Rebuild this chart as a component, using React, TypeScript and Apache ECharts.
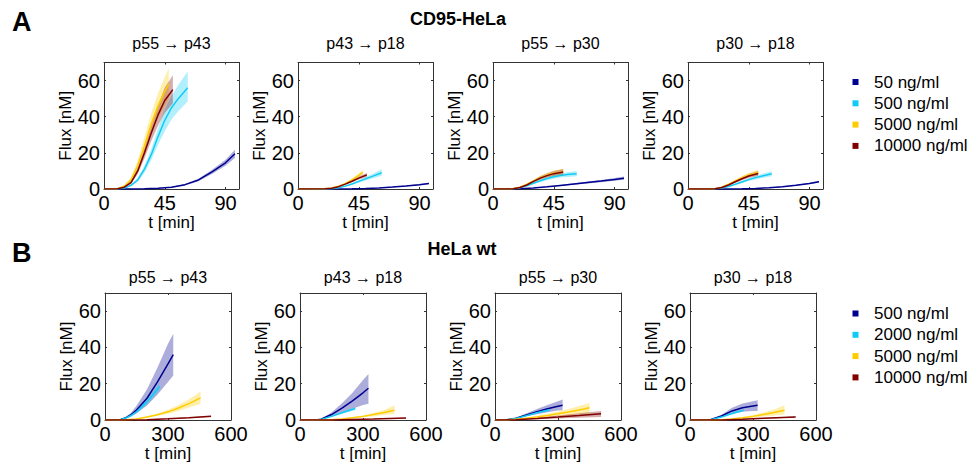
import React, { useEffect, useRef } from 'react';
import * as echarts from 'echarts';

// ---------- labels ----------
const panelTitles = ['p55 \u2192 p43', 'p43 \u2192 p18', 'p55 \u2192 p30', 'p30 \u2192 p18'];
const rowHeaders = ['CD95-HeLa', 'HeLa wt'];
const rowLetters = ['A', 'B'];
const doseLabelsA = ['50 ng/ml', '500 ng/ml', '5000 ng/ml', '10000 ng/ml'];
const doseLabelsB = ['500 ng/ml', '2000 ng/ml', '5000 ng/ml', '10000 ng/ml'];
const xTicksA = [0, 45, 90];
const xMaxA = 100;
const xTicksB = [0, 300, 600];
const xMaxB = 600;
const yTicks = [0, 20, 40, 60];
const yMax = 70;
const colors = ['#000090', '#10CCF5', '#FFCC00', '#800000'];

// ---------- data: [t, lower, median, upper] ----------
// Row A (CD95-HeLa), t in min
const A1_50 = [[0,0,0,0],[20,0,0,0],[30,0.1,0.1,0.1],[40,0.3,0.4,0.5],[50,0.8,1,1.2],[60,2,2.4,2.8],[70,4.3,5,5.7],[80,8.3,9.5,10.7],[90,12.8,14.5,16.2],[97,17.2,19.5,21.7]];
const A1_500 = [[0,0,0,0],[10,0,0,0],[15,0.4,0.5,0.6],[20,1.6,2,2.5],[25,4,5,6.2],[30,9,11,13],[35,16,19,22],[40,24.5,29,33.5],[45,32,38,44],[50,38.5,45,51.5],[55,43,50,57.5],[62,48.4,56,65]];
const A1_5000 = [[0,0,0,0],[10,0.1,0.2,0.4],[15,1,1.5,2.2],[20,3.8,5,6.5],[25,10,13,16],[30,19,24,29],[35,30,36,42],[40,39,46,53],[45,46,54,62],[48,50,58,67]];
const A1_10000 = [[0,0,0,0],[10,0,0.1,0.2],[15,0.7,1,1.4],[20,2.8,3.5,4.4],[25,8.3,10,12],[30,17,20,23],[35,26.5,31,35],[40,35,41,46],[45,42,49,56],[51,47.5,55,63]];

const A2_50 = [[0,0,0,0],[30,0,0,0],[40,0.1,0.1,0.1],[50,0.25,0.3,0.35],[60,0.5,0.6,0.7],[70,0.95,1.1,1.25],[80,1.5,1.7,1.95],[90,2.1,2.4,2.75],[97,2.7,3.1,3.5]];
const A2_500 = [[0,0,0,0],[20,0,0,0],[25,0.15,0.2,0.25],[30,0.6,0.7,0.85],[35,1.35,1.6,1.9],[40,2.4,2.8,3.3],[45,3.5,4.2,4.9],[50,4.7,5.6,6.6],[55,5.8,7,8.3],[62,7.3,9,10.9]];
const A2_5000 = [[0,0,0,0],[20,0.1,0.1,0.1],[25,0.4,0.5,0.6],[30,1.3,1.5,1.8],[35,2.6,3,3.5],[40,4.3,5,5.8],[45,6.4,7.5,8.6],[48,7.9,9.2,10.6]];
const A2_10000 = [[0,0,0,0],[20,0.1,0.1,0.1],[25,0.35,0.4,0.5],[30,1.1,1.3,1.5],[35,2.3,2.7,3.1],[40,3.7,4.3,4.9],[45,5.2,6,6.9],[51,6.7,7.8,8.9]];

const A3_50 = [[0,0,0,0],[10,0,0,0],[20,0.08,0.1,0.12],[30,0.42,0.5,0.58],[40,1,1.2,1.4],[50,1.7,2,2.3],[60,2.4,2.8,3.2],[70,3.1,3.6,4.1],[80,3.8,4.4,5],[90,4.5,5.3,6.1],[97,5.1,6,6.9]];
const A3_500 = [[0,0,0,0],[10,0,0,0],[15,0.17,0.2,0.23],[20,0.6,0.7,0.8],[25,1.55,1.8,2.1],[30,2.75,3.2,3.7],[35,3.9,4.6,5.3],[40,4.9,5.8,6.7],[45,5.7,6.8,7.9],[50,6.3,7.5,8.7],[55,6.7,8,9.3],[62,7.1,8.5,9.9]];
const A3_5000 = [[0,0,0,0],[10,0,0,0],[15,0.25,0.3,0.35],[20,0.85,1,1.2],[25,2.1,2.5,3],[30,3.8,4.5,5.3],[35,5.3,6.3,7.4],[40,6.5,7.7,9],[45,7.3,8.7,10.2],[52,8,9.6,11.3]];
const A3_10000 = [[0,0,0,0],[10,0,0,0],[15,0.17,0.2,0.23],[20,0.7,0.8,0.95],[25,1.9,2.2,2.6],[30,3.6,4.2,4.9],[35,5.1,6,7],[40,6.3,7.4,8.6],[45,7.2,8.5,9.9],[52,7.9,9.4,11]];

const A4_50 = [[0,0,0,0],[30,0,0,0],[40,0.08,0.1,0.12],[50,0.25,0.3,0.35],[60,0.6,0.7,0.8],[70,1.1,1.3,1.5],[80,1.8,2.1,2.4],[90,2.7,3.1,3.5],[97,3.5,4,4.5]];
const A4_500 = [[0,0,0,0],[15,0,0,0],[20,0.08,0.1,0.12],[25,0.42,0.5,0.58],[30,1.2,1.4,1.6],[35,2.2,2.6,3],[40,3.3,3.9,4.5],[45,4.4,5.2,6],[50,5.3,6.3,7.3],[55,6.1,7.2,8.4],[62,7.1,8.4,9.8]];
const A4_5000 = [[0,0,0,0],[15,0,0,0],[20,0.17,0.2,0.23],[25,0.85,1,1.15],[30,2.2,2.6,3],[35,3.7,4.4,5.1],[40,5.2,6.2,7.2],[45,6.6,7.8,9],[52,7.8,9.2,10.7]];
const A4_10000 = [[0,0,0,0],[15,0,0,0],[20,0.17,0.2,0.23],[25,0.7,0.8,0.95],[30,1.9,2.2,2.6],[35,3.4,4,4.6],[40,4.8,5.7,6.6],[45,6.1,7.2,8.3],[52,7.3,8.6,10]];

// Row B (HeLa wt)
const B1_500 = [[0,0,0,0],[50,0,0,0],[75,0.2,0.3,0.4],[100,0.9,1.3,1.8],[125,2,3,4.2],[150,3.6,5.5,7.8],[200,8,12,17],[250,14,21,29],[300,21,31,42],[325,24.5,36,47.5]];
const B1_2000 = [[0,0,0,0],[50,0,0,0],[75,0.25,0.3,0.35],[100,0.9,1.1,1.3],[125,2.1,2.5,2.9],[150,3.8,4.5,5.2],[200,8.6,10,11.4],[260,16.5,18.5,20.5]];
const B1_5000 = [[0,0,0,0],[75,0,0,0],[100,0.08,0.1,0.12],[150,0.5,0.6,0.7],[200,1.3,1.6,1.9],[250,2.3,2.9,3.5],[300,3.5,4.5,5.6],[350,5,6.6,8.3],[400,6.9,9,11.4],[455,8.8,12.2,15.7]];
const B1_10000 = [[0,0,0,0],[100,0,0,0],[200,0.15,0.2,0.25],[300,0.55,0.7,0.85],[400,1.05,1.3,1.55],[505,1.6,2,2.4]];

const B2_500 = [[0,0,0,0],[75,0,0,0],[100,0.3,0.4,0.5],[150,2,3,4.2],[200,4,6.5,9.2],[250,6.2,10.5,15],[300,8.3,15,22],[326,9,17.5,25.3]];
const B2_2000 = [[0,0,0,0],[75,0,0,0],[100,0.25,0.3,0.35],[150,1.7,2,2.3],[200,3.4,4,4.6],[263,5.4,6.3,7.2]];
const B2_5000 = [[0,0,0,0],[100,0,0,0],[150,0.15,0.2,0.25],[200,0.45,0.6,0.75],[250,0.9,1.2,1.5],[300,1.4,2,2.6],[350,2.1,3,3.9],[400,2.8,4.1,5.5],[450,3.5,5.4,8.1]];
const B2_10000 = [[0,0,0,0],[150,0,0,0],[250,0.25,0.3,0.35],[350,0.5,0.6,0.7],[505,0.9,1.1,1.3]];

const B3_500 = [[0,0,0,0],[50,0,0,0],[100,0.7,1,1.3],[150,2,2.8,3.7],[200,3.2,4.6,6.1],[250,4.3,6.2,8.2],[300,5.2,7.6,10.3],[322,5.4,8.1,11.3]];
const B3_2000 = [[0,0,0,0],[50,0,0,0],[100,0.65,0.8,0.95],[150,2,2.4,2.8],[200,3.4,4,4.6],[260,4.8,5.6,6.4]];
const B3_5000 = [[0,0,0,0],[50,0,0,0],[100,0.25,0.4,0.55],[150,0.65,1,1.4],[200,1.1,1.7,2.4],[250,1.6,2.5,3.5],[300,2.2,3.4,4.7],[350,2.6,4.4,6.1],[400,3.1,5.5,7.7],[450,3.5,6.7,9.4]];
const B3_10000 = [[0,0,0,0],[50,0,0,0],[100,0.1,0.2,0.3],[200,0.4,0.8,1.2],[300,0.8,1.6,2.5],[400,1.3,2.5,3.7],[505,1.7,3.5,5]];

const B4_500 = [[0,0,0,0],[75,0,0,0],[100,0.2,0.3,0.4],[150,1.5,2.2,2.9],[200,3.4,5,6.7],[250,4.6,6.8,9.1],[300,5,7.7,10.3],[322,5,8.1,10.9]];
const B4_2000 = [[0,0,0,0],[75,0,0,0],[100,0.17,0.2,0.23],[150,1.35,1.6,1.85],[200,3.1,3.6,4.1],[255,4.7,5.4,6.1]];
const B4_5000 = [[0,0,0,0],[100,0,0,0],[150,0.15,0.2,0.25],[200,0.45,0.6,0.75],[250,0.85,1.2,1.55],[300,1.3,2,2.7],[350,1.9,3,4.1],[400,2.5,4.1,5.8],[450,3.1,5.4,8.1]];
const B4_10000 = [[0,0,0,0],[150,0,0,0],[250,0.3,0.4,0.5],[350,0.7,0.9,1.1],[503,1.4,1.7,2]];

const panelsA = [
  [A1_50, A1_500, A1_5000, A1_10000],
  [A2_50, A2_500, A2_5000, A2_10000],
  [A3_50, A3_500, A3_5000, A3_10000],
  [A4_50, A4_500, A4_5000, A4_10000],
];
const panelsB = [
  [B1_500, B1_2000, B1_5000, B1_10000],
  [B2_500, B2_2000, B2_5000, B2_10000],
  [B3_500, B3_2000, B3_5000, B3_10000],
  [B4_500, B4_2000, B4_5000, B4_10000],
];

// ---------- layout ----------
const FONT = "'Liberation Sans', Arial, Helvetica, sans-serif";
const AXIS_COLOR = '#333333';
const rowLayout = [
  { lefts: [104, 298, 493, 688], top: 62.5, w: 135, h: 126.5, titleY: 43, headerX: 458, headerY: 19, letterY: 22, legendY: 82 },
  { lefts: [105, 300, 495, 690], top: 293, w: 126, h: 127, titleY: 277, headerX: 462, headerY: 249, letterY: 253, legendY: 313.5 },
];

function buildOption() {
  const grid: any[] = [];
  const xAxis: any[] = [];
  const yAxis: any[] = [];
  const series: any[] = [];
  const graphic: any[] = [];

  const rows = [
    { panels: panelsA, xTicks: xTicksA, xMax: xMaxA, showMaxX: false, doses: doseLabelsA },
    { panels: panelsB, xTicks: xTicksB, xMax: xMaxB, showMaxX: true, doses: doseLabelsB },
  ];

  rows.forEach((row, r) => {
    const L = rowLayout[r];
    const xInt = row.xTicks[1] - row.xTicks[0];
    const yInt = yTicks[1] - yTicks[0];
    row.panels.forEach((curves, c) => {
      const gi = r * 4 + c;
      grid.push({ left: L.lefts[c], top: L.top, width: L.w, height: L.h, containLabel: false, outerBoundsMode: 'none' });
      const common = {
        type: 'value', gridIndex: gi, min: 0, max: row.xMax, interval: xInt,
        splitLine: { show: false },
        axisLine: { show: true, onZero: false, lineStyle: { color: AXIS_COLOR, width: 1 } },
        axisTick: { show: true, inside: true, length: 2, lineStyle: { color: AXIS_COLOR } },
      };
      xAxis.push({
        ...common, position: 'bottom',
        axisLabel: { show: true, fontSize: 20, color: '#000', fontFamily: FONT, margin: 4, showMinLabel: true, showMaxLabel: row.showMaxX },
        name: 't [min]', nameLocation: 'middle', nameGap: 25, nameMoveOverlap: false,
        nameTextStyle: { fontSize: 17, color: '#000', fontFamily: FONT },
      });
      xAxis.push({ ...common, position: 'top', axisLabel: { show: false } });
      const ycommon = {
        type: 'value', gridIndex: gi, min: 0, max: yMax, interval: yInt,
        splitLine: { show: false },
        axisLine: { show: true, onZero: false, lineStyle: { color: AXIS_COLOR, width: 1 } },
        axisTick: { show: true, inside: true, length: 2, lineStyle: { color: AXIS_COLOR } },
      };
      yAxis.push({
        ...ycommon, position: 'left',
        axisLabel: { show: true, fontSize: 20, color: '#000', fontFamily: FONT, margin: 4, showMinLabel: true, showMaxLabel: false },
        name: 'Flux [nM]', nameLocation: 'middle', nameGap: 30, nameRotate: 90, nameMoveOverlap: false,
        nameTextStyle: { fontSize: 17, color: '#000', fontFamily: FONT },
      });
      yAxis.push({ ...ycommon, position: 'right', axisLabel: { show: false } });

      const xi = gi * 2;
      const yi = gi * 2;
      curves.forEach((rowsData, k) => {
        const color = colors[k];
        series.push({
          type: 'custom',
          coordinateSystem: 'cartesian2d',
          xAxisIndex: xi, yAxisIndex: yi,
          data: rowsData,
          encode: { x: 0, y: 2 },
          silent: true,
          z: 2,
          renderItem: (params: any, api: any) => {
            if (params.dataIndex !== 0) return null;
            const upper = rowsData.map((d) => api.coord([d[0], d[3]]));
            const lower = rowsData.slice().reverse().map((d) => api.coord([d[0], d[1]]));
            return {
              type: 'polygon',
              shape: { points: upper.concat(lower) },
              style: { fill: color, opacity: 0.32, stroke: 'none' },
              silent: true,
            };
          },
        });
        series.push({
          type: 'line',
          xAxisIndex: xi, yAxisIndex: yi,
          data: rowsData.map((d) => [d[0], d[2]]),
          showSymbol: false, symbol: 'none',
          lineStyle: { color, width: 1.5 },
          itemStyle: { color },
          silent: true,
          z: 3,
        });
      });

      graphic.push({
        type: 'text', x: L.lefts[c] + L.w / 2, y: L.titleY,
        style: { text: panelTitles[c], fontSize: 16, fontFamily: FONT, fill: '#000', align: 'center', verticalAlign: 'middle' },
      });
    });

    graphic.push({
      type: 'text', x: L.headerX, y: L.headerY,
      style: { text: rowHeaders[r], fontSize: 18, fontWeight: 'bold', fontFamily: FONT, fill: '#000', align: 'center', verticalAlign: 'middle' },
    });
    graphic.push({
      type: 'text', x: 12, y: L.letterY,
      style: { text: rowLetters[r], fontSize: 27, fontWeight: 'bold', fontFamily: FONT, fill: '#000', align: 'left', verticalAlign: 'middle' },
    });
    row.doses.forEach((lab, k) => {
      const yy = L.legendY + k * 21.3;
      graphic.push({ type: 'rect', shape: { x: 852.5, y: yy - 3, width: 6, height: 6 }, style: { fill: colors[k] } });
      graphic.push({
        type: 'text', x: 874, y: yy,
        style: { text: lab, fontSize: 17, fontFamily: FONT, fill: '#000', align: 'left', verticalAlign: 'middle' },
      });
    });
  });

  return {
    animation: false,
    backgroundColor: '#ffffff',
    textStyle: { fontFamily: FONT },
    grid, xAxis, yAxis, series, graphic,
  };
}

export default function App() {
  const ref = useRef<HTMLDivElement>(null);
  useEffect(() => {
    document.body.style.margin = '0';
    const chart = echarts.init(ref.current as HTMLDivElement, null, { renderer: 'svg' });
    chart.setOption(buildOption());
    return () => chart.dispose();
  }, []);
  return <div ref={ref} style={{ width: 971, height: 465 }} />;
}
